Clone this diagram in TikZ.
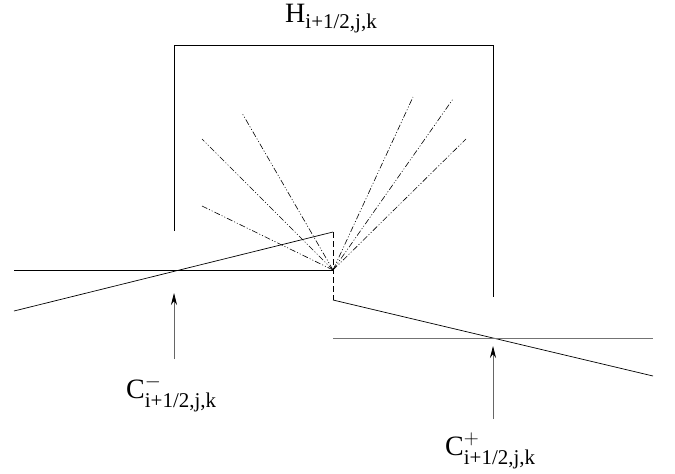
\documentclass[tikz,border=0pt]{standalone}
\usepackage{amsmath}
\usepackage{fontspec}
\setmainfont{Liberation Serif}
\DeclareMathSizes{28}{28}{21}{16}
\usetikzlibrary{arrows.meta}

\newcommand{\ijk}{\text{\raisebox{-2pt}{i+1/2,j,k}}}

\begin{document}
\begin{tikzpicture}[x=1pt,y=-1pt,
    ray/.style={line width=0.6pt, dash pattern=on 6pt off 2pt on 1pt off 2pt on 1pt off 2pt},
    edge/.style={line width=0.7pt},
    uparrow/.style={line width=0.7pt, draw=black!60, -{Stealth[length=12pt,width=6pt,color=black]}},
    lbl/.style={anchor=base west, inner sep=0pt, font=\fontsize{28}{32}\selectfont}]
    \useasboundingbox (0,0) rectangle (675,474);
    % interface point and bracket
    \coordinate (f) at (333,270);
    \coordinate (tl) at (174,45);
    \coordinate (bl) at (174,231);
    \coordinate (tr) at (493,45);
    \coordinate (br) at (493,297);
    \draw[edge] (bl) -- (tl) -- (tr) -- (br);
    % left reconstruction
    \coordinate (lh) at (14,270);
    \coordinate (ls) at (14,311);
    \coordinate (dt) at (333,232);
    \coordinate (db) at (333,300);
    \draw[edge] (lh) -- (f);
    \draw[edge] (ls) -- (dt);
    \draw[edge, dash pattern=on 6pt off 3pt] (dt) -- (db);
    % right reconstruction
    \coordinate (rs) at (653,376);
    \coordinate (rh0) at (333,338);
    \coordinate (rh1) at (653,338);
    \draw[edge] (db) -- (rs);
    \draw[line width=1pt, black!55] (rh0) -- (rh1);
    % waves
    \coordinate (w1) at (202,206);
    \coordinate (w2) at (202,139);
    \coordinate (w3) at (242,113);
    \coordinate (w4) at (413,97);
    \coordinate (w5) at (453,99);
    \coordinate (w6) at (466,139);
    \foreach \w in {w1,w2,w3,w4,w5,w6}
        \draw[ray] (f) -- (\w);
    % labels
    \node[lbl] (hlab) at (285,22) {$\text{H}_{\ijk}$};
    \node[lbl] (cmlab) at (126,398) {$\text{C}^{-}_{\ijk}$};
    \node[lbl] (cplab) at (445,455) {$\text{C}^{+}_{\ijk}$};
    \coordinate (am0) at (174,359);
    \coordinate (am1) at (174,293);
    \coordinate (ap0) at (493,419);
    \coordinate (ap1) at (493,346);
    \draw[uparrow] (am0) -- (am1);
    \draw[uparrow] (ap0) -- (ap1);
\end{tikzpicture}
\end{document}
